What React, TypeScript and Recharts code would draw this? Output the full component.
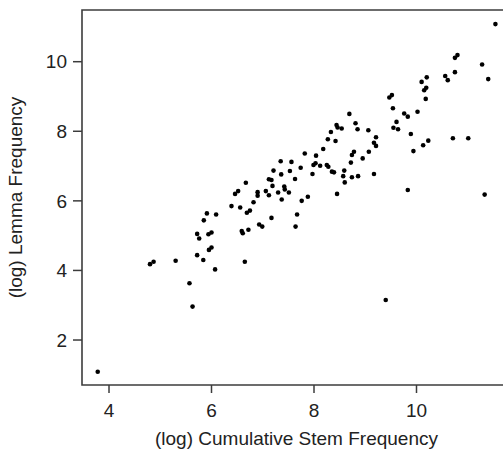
import { ScatterChart, Scatter, XAxis, YAxis, ReferenceArea } from 'recharts'

// log cumulative stem frequency (x) and log lemma frequency (y), one entry per word
const stemFreq = [
  3.78, 4.80, 4.87, 5.30, 5.57, 5.63, 5.72, 5.84, 6.07, 5.72, 5.76, 5.94, 6.00, 5.95, 6.00, 5.85, 5.91, 6.09,
  6.39, 6.56, 6.82, 6.69, 6.75, 6.46, 6.52, 6.67, 6.90, 6.90, 7.06, 7.12, 7.12, 7.17, 7.19, 7.21, 7.17,
  6.59, 6.61, 6.72, 6.93, 6.99, 6.65,
  7.35, 7.56, 7.74, 7.53, 7.36, 7.63, 7.97, 7.42, 7.43, 7.30, 7.51, 7.37, 7.76, 7.88, 7.67, 7.64, 7.82,
  8.04, 8.18, 7.99, 8.03, 8.12, 8.25, 8.28, 8.35, 8.39, 8.45, 8.69, 8.44, 8.46, 8.54, 8.81, 8.85, 9.06,
  8.33, 8.27, 8.42, 9.21, 9.17, 9.21, 8.78, 8.74, 9.07, 8.95, 8.72, 8.59, 8.57, 8.74, 8.86, 8.60, 9.17, 9.40,
  11.54, 11.28, 11.40, 11.33, 10.71, 11.01, 10.75, 10.80, 10.56, 10.61, 10.75, 10.10, 10.20, 10.15, 10.19,
  10.18, 9.47, 9.52, 9.54, 9.76, 9.83, 10.02, 9.61, 9.55, 9.64, 9.89, 9.94, 10.13, 10.23, 9.83,
]
const lemmaFreq = [
  1.09, 4.18, 4.25, 4.28, 3.63, 2.96, 4.44, 4.30, 4.03, 5.05, 4.92, 5.04, 5.09, 4.59, 4.66, 5.44, 5.64, 5.61,
  5.85, 5.81, 5.96, 5.66, 5.72, 6.20, 6.28, 6.52, 6.25, 6.15, 6.28, 6.16, 6.62, 6.60, 6.43, 6.87, 5.51,
  5.13, 5.07, 5.17, 5.32, 5.26, 4.25,
  7.14, 7.12, 6.95, 6.86, 6.76, 6.63, 6.77, 6.41, 6.33, 6.24, 6.24, 6.04, 6.00, 6.12, 5.61, 5.26, 7.36,
  7.30, 7.49, 7.03, 7.08, 7.01, 7.03, 6.98, 6.84, 6.82, 6.20, 8.50, 8.18, 8.11, 8.08, 8.23, 8.06, 8.03,
  7.98, 7.77, 7.72, 7.83, 7.67, 7.58, 7.41, 7.32, 7.41, 7.22, 7.10, 6.87, 6.71, 6.68, 6.71, 6.53, 6.77, 3.15,
  11.08, 9.92, 9.50, 6.18, 7.80, 7.80, 10.11, 10.19, 9.59, 9.47, 9.70, 9.42, 9.55, 9.18, 9.25,
  8.93, 8.97, 9.04, 8.66, 8.51, 8.42, 8.56, 8.27, 8.10, 8.06, 7.92, 7.43, 7.60, 7.73, 6.31,
]

const xTicks = [4, 6, 8, 10]
const yTicks = [2, 4, 6, 8, 10]
const xDomain = [3.473, 11.844]
const yDomain = [0.707, 11.486]

const points = stemFreq.map((x, i) => ({ x, y: lemmaFreq[i] }))

const FONT = '"Liberation Sans", Arial, Helvetica, sans-serif'
const INK = '#222'
const FRAME = '#3c3c3c'

function Dot(props: { cx?: number; cy?: number }) {
  if (props.cx == null || props.cy == null) return null
  return <circle cx={props.cx} cy={props.cy} r={2.3} fill="#000" />
}

export default function App() {
  return (
    <div style={{ position: 'absolute', left: 0, top: 0, width: 503, height: 449, overflow: 'hidden', background: '#fff' }}>
      <ScatterChart width={520} height={449} margin={{ top: 10, right: 9, left: 0, bottom: 0 }}>
        <XAxis
          type="number"
          dataKey="x"
          domain={xDomain}
          ticks={xTicks}
          allowDataOverflow
          height={64}
          axisLine={false}
          tickSize={8}
          tickMargin={11}
          tickLine={{ stroke: FRAME, strokeWidth: 1.5 }}
          tick={{ fontSize: 19, fill: INK, fontFamily: FONT }}
          label={{
            content: () => (
              <text x={296.5} y={445} textAnchor="middle" fontSize={19} fill={INK} fontFamily={FONT}>
                (log) Cumulative Stem Frequency
              </text>
            ),
          }}
        />
        <YAxis
          type="number"
          dataKey="y"
          domain={yDomain}
          ticks={yTicks}
          allowDataOverflow
          width={82}
          axisLine={false}
          tickSize={9}
          tickMargin={6}
          tickLine={{ stroke: FRAME, strokeWidth: 1.5 }}
          tick={{ fontSize: 19, fill: INK, fontFamily: FONT }}
          label={{
            content: () => (
              <text
                x={22}
                y={197.5}
                transform="rotate(-90, 22, 197.5)"
                textAnchor="middle"
                fontSize={19}
                fill={INK}
                fontFamily={FONT}
              >
                (log) Lemma Frequency
              </text>
            ),
          }}
        />
        <ReferenceArea
          x1={xDomain[0]}
          x2={xDomain[1]}
          y1={yDomain[0]}
          y2={yDomain[1]}
          fill="none"
          fillOpacity={0}
          stroke={FRAME}
          strokeWidth={1.6}
          ifOverflow="visible"
        />
        <Scatter data={points} shape={<Dot />} isAnimationActive={false} />
      </ScatterChart>
    </div>
  )
}
